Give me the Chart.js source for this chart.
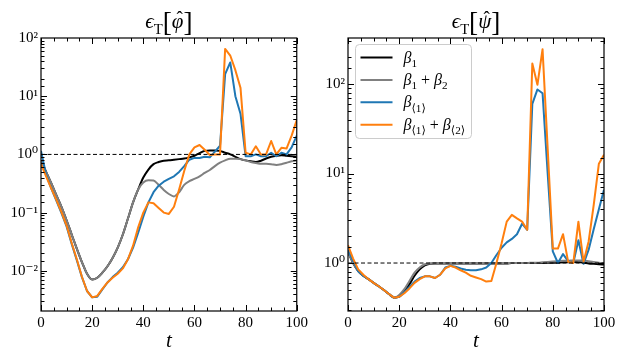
<!DOCTYPE html>
<html><head><meta charset="utf-8">
<script src="https://cdn.jsdelivr.net/npm/chart.js@4/dist/chart.umd.min.js"></script>
<style>
html,body{margin:0;padding:0;background:#fff;width:623px;height:359px;overflow:hidden}
canvas{position:absolute;top:0}
#c1{left:0}
#c2{left:311px}
</style></head><body>
<canvas id="c1" width="311" height="359"></canvas>
<canvas id="c2" width="312" height="359"></canvas>
<script>
// ---------- DATA ----------
const t = [0,2,4,6,8,10,12,14,16,18,20,22,24,26,28,30,32,34,36,38,40,42,44,46,48,50,52,54,56,58,60,62,64,66,68,70,72,74,76,78,80,82,84,86,88,90,92,94,96,98,100];

const seriesLabels = ['β_{1}', 'β_{1} + β_{2}', 'β_{⟨1⟩}', 'β_{⟨1⟩} + β_{⟨2⟩}'];
const seriesColors = ['#000000', '#808080', '#1f77b4', '#ff7f0e'];

// left panel: eps_T[phi-hat]
const phiBeta1 = [0.79,0.50,0.32,0.20,0.126,0.074,0.042,0.024,0.0141,0.0089,0.0071,0.0076,0.0093,0.012,0.0166,0.025,0.042,0.079,0.15,0.25,0.40,0.55,0.68,0.74,0.78,0.79,0.81,0.83,0.85,0.89,0.95,1.05,1.15,1.17,1.17,1.15,1.07,1.0,0.91,0.83,0.79,0.76,0.74,0.78,0.85,0.91,0.95,0.97,0.95,0.93,0.91];
const phiBeta12 = [0.79,0.50,0.32,0.20,0.126,0.074,0.042,0.024,0.0141,0.0089,0.0071,0.0076,0.0093,0.012,0.0166,0.025,0.042,0.079,0.15,0.25,0.33,0.36,0.355,0.30,0.245,0.209,0.19,0.224,0.30,0.347,0.38,0.42,0.48,0.54,0.63,0.72,0.79,0.84,0.84,0.83,0.79,0.74,0.71,0.69,0.69,0.68,0.66,0.68,0.72,0.76,0.79];
const phiBetaA1 = [1.15,0.45,0.26,0.16,0.098,0.058,0.029,0.0152,0.0078,0.0045,0.0035,0.0036,0.0048,0.0063,0.0078,0.0093,0.0115,0.0158,0.025,0.045,0.085,0.15,0.224,0.29,0.34,0.38,0.42,0.50,0.63,0.81,0.87,0.87,0.91,0.89,1.12,1.41,24,38,10,5.0,0.93,0.93,1.0,0.93,0.93,1.07,0.93,1.07,1.0,1.32,2.1];
const phiBetaA12 = [0.68,0.42,0.26,0.166,0.102,0.060,0.030,0.0158,0.0079,0.0045,0.0035,0.0037,0.0049,0.0063,0.0076,0.0089,0.011,0.0158,0.027,0.056,0.10,0.15,0.145,0.12,0.10,0.095,0.126,0.25,0.52,1.0,1.32,1.45,1.2,0.98,1.0,1.0,65,50,28,14,1.07,1.0,1.38,1.0,1.0,1.7,1.0,1.3,1.26,2.1,3.9];

// right panel: eps_T[psi-hat]
const psiBeta1 = [1.32,1.0,0.81,0.72,0.66,0.60,0.55,0.50,0.45,0.41,0.42,0.48,0.58,0.72,0.85,0.94,0.98,0.99,0.99,0.99,0.99,0.99,0.99,0.99,0.99,0.99,0.99,0.99,0.99,0.99,0.99,0.99,1.0,1.0,1.0,1.0,1.0,1.0,1.0,1.01,1.01,1.01,1.02,1.02,1.03,1.02,1.01,0.99,0.98,0.97,0.96];
const psiBeta12 = [1.32,1.0,0.81,0.72,0.66,0.60,0.55,0.50,0.45,0.41,0.44,0.51,0.63,0.78,0.89,0.97,0.99,0.99,0.99,0.99,0.99,0.99,0.99,0.99,0.99,0.99,0.99,0.99,0.99,0.99,0.99,1.0,1.0,1.0,1.0,1.0,1.01,1.01,1.02,1.03,1.04,1.05,1.06,1.06,1.07,1.07,1.06,1.05,1.03,1.01,1.0];
const psiBetaA1 = [1.40,1.05,0.81,0.72,0.66,0.60,0.55,0.50,0.45,0.41,0.42,0.47,0.54,0.62,0.68,0.71,0.71,0.68,0.74,0.89,0.93,0.91,0.87,0.84,0.83,0.83,0.85,0.89,1.0,1.23,1.48,1.7,1.86,2.1,2.75,2.35,60,87,79,10,1.35,1.0,1.26,1.05,1.0,1.8,0.98,1.41,2.4,4.0,6.6];
const psiBetaA12 = [1.58,1.12,0.85,0.74,0.66,0.60,0.55,0.50,0.45,0.41,0.42,0.46,0.52,0.60,0.66,0.71,0.71,0.68,0.74,0.87,0.93,0.89,0.83,0.78,0.72,0.69,0.66,0.62,0.63,1.0,1.66,2.9,3.45,3.15,2.9,2.35,170,98,245,19,1.45,1.45,2.1,1.03,1.0,2.9,1.03,1.74,4.5,12.9,16.2];

// reference line eps = 1
const refT = [0, 100];
const refValues = [1, 1];

// ticks
const xTickValues = [0,20,40,60,80,100];
const xTickLabels = ['0','20','40','60','80','100'];
const leftYTickValues = [0.01,0.1,1,10,100];
const leftYTickLabels = ['10⁻²','10⁻¹','10⁰','10¹','10²'];
const rightYTickValues = [1,10,100];
const rightYTickLabels = ['10⁰','10¹','10²'];

const leftTitle = 'ϵ_{T}[φ̂]';
const rightTitle = 'ϵ_{T}[ψ̂]';
const xAxisTitle = 't';

// ---------- RENDERING ----------
const FONT = '"Liberation Serif", "DejaVu Serif", serif';
Chart.defaults.font.family = FONT;
Chart.defaults.color = '#000';

function drawRich(ctx, str, x, y, size, align) {
  const parts = []; const re = /_\{([^}]*)\}/g; let last = 0, m;
  while ((m = re.exec(str))) {
    if (m.index > last) parts.push({t: str.slice(last, m.index), sub: false});
    parts.push({t: m[1], sub: true}); last = re.lastIndex;
  }
  if (last < str.length) parts.push({t: str.slice(last), sub: false});
  const runs = [];
  parts.forEach(p => {
    const fs = p.sub ? size * 0.7 : size;
    const dy = p.sub ? size * 0.27 : 0;
    const chars = Array.from(p.t);
    for (let i = 0; i < chars.length; i++) {
      let c = chars[i], hat = false;
      while (i + 1 < chars.length && /[\u0300-\u036f]/.test(chars[i + 1])) { i++; hat = true; }
      const it = /[\u0370-\u03ff]/.test(c);
      const big = !p.sub && (c === '[' || c === ']') && size > 18;
      const f = big ? fs * 1.3 : fs;
      runs.push({c, hat, size: f, font: (it ? 'italic ' : '') + f + 'px ' + FONT, dy: big ? dy + size * 0.12 : dy});
    }
  });
  let total = 0;
  runs.forEach(r => { ctx.font = r.font; r.w = ctx.measureText(r.c).width; total += r.w; });
  let cx = align === 'center' ? x - total / 2 : x;
  ctx.textAlign = 'left'; ctx.textBaseline = 'alphabetic';
  runs.forEach(r => {
    ctx.font = r.font; ctx.fillText(r.c, cx, y + r.dy);
    if (r.hat) {
      ctx.font = (r.size * 0.9) + 'px ' + FONT;
      ctx.textAlign = 'center';
      ctx.fillText('ˆ', cx + r.w / 2 + 2, y + r.dy - r.size * 0.2);
      ctx.textAlign = 'left';
    }
    cx += r.w;
  });
}

const frameTicks = {
  id: 'frameTicks',
  afterDatasetsDraw(chart, args, opts) {
    const {ctx, chartArea: {left, right, top, bottom}, scales: {x, y}} = chart;
    ctx.save();
    ctx.strokeStyle = '#000'; ctx.lineWidth = 1;
    const ln = (a, b, c, d) => { ctx.beginPath(); ctx.moveTo(a, b); ctx.lineTo(c, d); ctx.stroke(); };
    x.ticks.forEach(tk => {
      const major = xTickValues.includes(tk.value);
      const L = major ? 6 : 3.5;
      const px = Math.round(x.getPixelForValue(tk.value)) + 0.5;
      ln(px, bottom, px, bottom - L); ln(px, top, px, top + L);
    });
    y.ticks.forEach(tk => {
      const v = tk.value;
      if (v < y.min * 1.001 || v > y.max * 0.999) return;
      const e = Math.log10(v);
      const major = Math.abs(e - Math.round(e)) < 1e-6;
      const L = major ? 6 : 3.5;
      const py = Math.round(y.getPixelForValue(v)) + 0.5;
      ln(left, py, left + L, py); ln(right, py, right - L, py);
    });
    ctx.lineWidth = 1.2;
    ctx.strokeRect(left, top, right - left, bottom - top);
    ctx.restore();
  }
};

const richTitle = {
  id: 'richTitle',
  afterDraw(chart, args, opts) {
    const {ctx, chartArea} = chart;
    ctx.save(); ctx.fillStyle = '#000';
    drawRich(ctx, opts.text, (chartArea.left + chartArea.right) / 2, 28, 21, 'center');
    ctx.restore();
  }
};

const legendBox = {
  id: 'legendBox',
  afterDatasetsDraw(chart, args, opts) {
    if (!opts.show) return;
    const {ctx, chartArea} = chart;
    const x0 = chartArea.left + 7.5, y0 = chartArea.top + 6.5, w = 116, h = 94, r = 4;
    ctx.save();
    ctx.beginPath();
    ctx.moveTo(x0 + r, y0); ctx.lineTo(x0 + w - r, y0); ctx.quadraticCurveTo(x0 + w, y0, x0 + w, y0 + r);
    ctx.lineTo(x0 + w, y0 + h - r); ctx.quadraticCurveTo(x0 + w, y0 + h, x0 + w - r, y0 + h);
    ctx.lineTo(x0 + r, y0 + h); ctx.quadraticCurveTo(x0, y0 + h, x0, y0 + h - r);
    ctx.lineTo(x0, y0 + r); ctx.quadraticCurveTo(x0, y0, x0 + r, y0); ctx.closePath();
    ctx.fillStyle = 'rgba(255,255,255,0.8)'; ctx.fill();
    ctx.strokeStyle = '#cccccc'; ctx.lineWidth = 1; ctx.stroke();
    seriesLabels.forEach((lab, i) => {
      const yy = y0 + 13 + i * 22.4;
      ctx.strokeStyle = seriesColors[i]; ctx.lineWidth = 2;
      ctx.beginPath(); ctx.moveTo(x0 + 5, yy); ctx.lineTo(x0 + 37, yy); ctx.stroke();
      ctx.fillStyle = '#000';
      drawRich(ctx, lab, x0 + 48, yy + 5, 16, 'left');
    });
    ctx.restore();
  }
};

function pts(xs, ys) { return xs.map((xv, i) => ({x: xv, y: ys[i]})); }

function makeChart(id, vals, yMin, yMax, yTickVals, yTickLabs, yAxisWidth, padRight, title, showLegend) {
  const ds = vals.map((v, i) => ({
    label: seriesLabels[i],
    data: pts(t, v),
    borderColor: seriesColors[i],
    borderWidth: 2,
    pointRadius: 0,
    fill: false,
    cubicInterpolationMode: i < 2 ? 'monotone' : 'default',
    tension: 0,
    borderJoinStyle: 'round',
    order: 4 - i
  }));
  ds.push({
    label: 'ref', data: pts(refT, refValues), borderColor: '#000', borderWidth: 1,
    borderDash: [4, 2.5], pointRadius: 0, fill: false, order: 0
  });
  return new Chart(document.getElementById(id), {
    type: 'line',
    data: {datasets: ds},
    options: {
      responsive: false, animation: false, devicePixelRatio: 1,
      layout: {padding: {left: 0, right: padRight, top: 38, bottom: 0}},
      plugins: {
        legend: {display: false}, tooltip: {enabled: false}, title: {display: false},
        richTitle: {text: title}, legendBox: {show: showLegend}
      },
      scales: {
        x: {
          type: 'linear', min: 0, max: 100,
          grid: {display: false, drawTicks: false}, border: {display: false},
          ticks: {
            stepSize: 5, autoSkip: false, maxRotation: 0, padding: 3,
            font: {family: FONT, size: 15}, color: '#000',
            callback: v => { const i = xTickValues.indexOf(v); return i >= 0 ? xTickLabels[i] : ''; }
          },
          title: {display: true, text: xAxisTitle, color: '#000',
            font: {family: FONT, size: 21, style: 'italic'}, padding: {top: 0, bottom: 5}},
          afterFit: s => { s.height = 48; }
        },
        y: {
          type: 'logarithmic', min: yMin, max: yMax,
          grid: {display: false, drawTicks: false}, border: {display: false},
          ticks: {
            autoSkip: false, padding: 3, font: {family: FONT, size: 15}, color: '#000',
            callback: v => {
              const e = Math.log10(v);
              if (Math.abs(e - Math.round(e)) > 1e-6) return '';
              const i = yTickVals.findIndex(tv => Math.abs(Math.log10(tv) - e) < 1e-6);
              return i >= 0 ? yTickLabs[i] : '';
            }
          },
          afterFit: s => { s.width = yAxisWidth; }
        }
      }
    },
    plugins: [frameTicks, richTitle, legendBox]
  });
}

makeChart('c1', [phiBeta1, phiBeta12, phiBetaA1, phiBetaA12], 0.00204, 100,
  leftYTickValues, leftYTickLabels, 41, 14, leftTitle, false);
makeChart('c2', [psiBeta1, psiBeta12, psiBetaA1, psiBetaA12], 0.291, 327,
  rightYTickValues, rightYTickLabels, 37, 19, rightTitle, true);
</script>
</body></html>
